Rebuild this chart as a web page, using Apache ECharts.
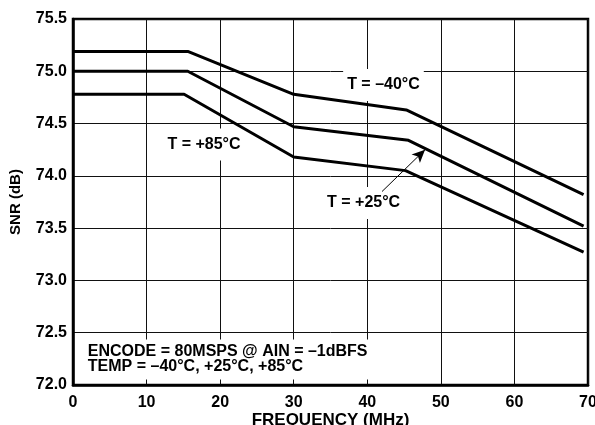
<!DOCTYPE html>
<html lang="en">
<head>
    <meta charset="utf-8">
    <title>SNR vs Frequency</title>
    <script type="text/javascript" src="https://cdn.jsdelivr.net/npm/echarts@6/dist/echarts.min.js"></script>
    <style>
        html, body { margin: 0; padding: 0; background: #fff; }
        #chartMain { width: 595px; height: 425px; }
    </style>
</head>
<body>
    <div id="chartMain"></div>
    <script type="text/javascript">
        // values
        var freqM40 = [0, 15.6, 30, 45.3, 69.4];
        var snrM40 = [75.19, 75.19, 74.78, 74.63, 73.82];
        var freqP25 = [0, 15.6, 30, 45.6, 69.4];
        var snrP25 = [75.0, 75.0, 74.47, 74.34, 73.52];
        var freqP85 = [0, 15.1, 30, 45.2, 69.4];
        var snrP85 = [74.78, 74.78, 74.18, 74.05, 73.27];

        var xTicks = [0, 10, 20, 30, 40, 50, 60, 70];
        var yTicks = [72.0, 72.5, 73.0, 73.5, 74.0, 74.5, 75.0, 75.5];

        var labelText = ['T = \u201340\u00b0C', 'T = +85\u00b0C', 'T = +25\u00b0C'];
        var labelAt = [[42.2, 74.87], [17.8, 74.30], [39.5, 73.74]];
        var arrowFrom = [42.0, 73.85];
        var arrowTo = [47.85, 74.25];
        var noteText = 'ENCODE = 80MSPS @ AIN = \u20131dBFS\nTEMP = \u201340\u00b0C, +25\u00b0C, +85\u00b0C';
        var noteAt = [1.2, 72.245];

        function pairs(xs, ys) {
            var out = [];
            for (var i = 0; i < xs.length; i++) out.push([xs[i], ys[i]]);
            return out;
        }

        var font = '"Liberation Sans", Arial, Helvetica, sans-serif';
        var chart = echarts.init(document.getElementById('chartMain'));

        var lineStyle = { color: '#000', width: 3 };
        var option = {
            animation: false,
            grid: {
                left: 73, right: 7, top: 19, bottom: 40,
                outerBoundsMode: 'none',
                show: true, borderColor: '#000', borderWidth: 2.5
            },
            xAxis: {
                type: 'value',
                min: xTicks[0], max: xTicks[xTicks.length - 1], interval: 10,
                name: 'FREQUENCY (MHz)',
                nameLocation: 'middle',
                nameGap: 27,
                nameMoveOverlap: false,
                nameTextStyle: { fontFamily: font, fontWeight: 'bold', fontSize: 17, color: '#000' },
                axisLine: { show: true, lineStyle: { color: '#000', width: 2.5 } },
                axisTick: { show: false },
                axisLabel: { fontFamily: font, fontWeight: 'bold', fontSize: 16, color: '#000', margin: 10 },
                splitLine: { show: true, lineStyle: { color: '#111', width: 1 } }
            },
            yAxis: {
                type: 'value',
                min: yTicks[0], max: yTicks[yTicks.length - 1], interval: 0.5,
                name: 'SNR (dB)',
                nameLocation: 'middle',
                nameGap: 50,
                nameTextStyle: { fontFamily: font, fontWeight: 'bold', fontSize: 15, color: '#000' },
                axisLine: { show: true, lineStyle: { color: '#000', width: 2.5 } },
                axisTick: { show: false },
                axisLabel: {
                    fontFamily: font, fontWeight: 'bold', fontSize: 16, color: '#000', margin: 6,
                    formatter: function (v) { return v.toFixed(1); }
                },
                splitLine: { show: true, lineStyle: { color: '#111', width: 1 } }
            },
            series: [{
                name: 'T = -40C', type: 'line', data: pairs(freqM40, snrM40),
                symbol: 'none', lineStyle: lineStyle, z: 3
            }, {
                name: 'T = +25C', type: 'line', data: pairs(freqP25, snrP25),
                symbol: 'none', lineStyle: lineStyle, z: 3,
                markLine: {
                    silent: true,
                    symbol: ['none', 'arrow'],
                    symbolSize: [9, 13],
                    label: { show: false },
                    lineStyle: { color: '#000', width: 1, type: 'solid' },
                    data: [[{ coord: arrowFrom }, { coord: arrowTo }]]
                }
            }, {
                name: 'T = +85C', type: 'line', data: pairs(freqP85, snrP85),
                symbol: 'none', lineStyle: lineStyle, z: 3
            }]
        };
        chart.setOption(option);

        // text annotations placed from data coordinates
        var graphics = [];
        for (var i = 0; i < labelText.length; i++) {
            var p = chart.convertToPixel({ gridIndex: 0 }, labelAt[i]);
            graphics.push({
                type: 'text', x: p[0], y: p[1], z: 2,
                style: {
                    text: labelText[i], fill: '#000', font: 'bold 16px ' + font,
                    align: 'center', verticalAlign: 'middle',
                    backgroundColor: '#fff', padding: [8, 4]
                }
            });
        }
        var n = chart.convertToPixel({ gridIndex: 0 }, noteAt);
        graphics.push({
            type: 'text', x: n[0], y: n[1], z: 2,
            style: {
                text: noteText, fill: '#000', font: 'bold 16px ' + font,
                lineHeight: 15, align: 'left', verticalAlign: 'middle',
                backgroundColor: '#fff', padding: [5, 6]
            }
        });
        chart.setOption({ graphic: graphics });
    </script>
</body>
</html>
